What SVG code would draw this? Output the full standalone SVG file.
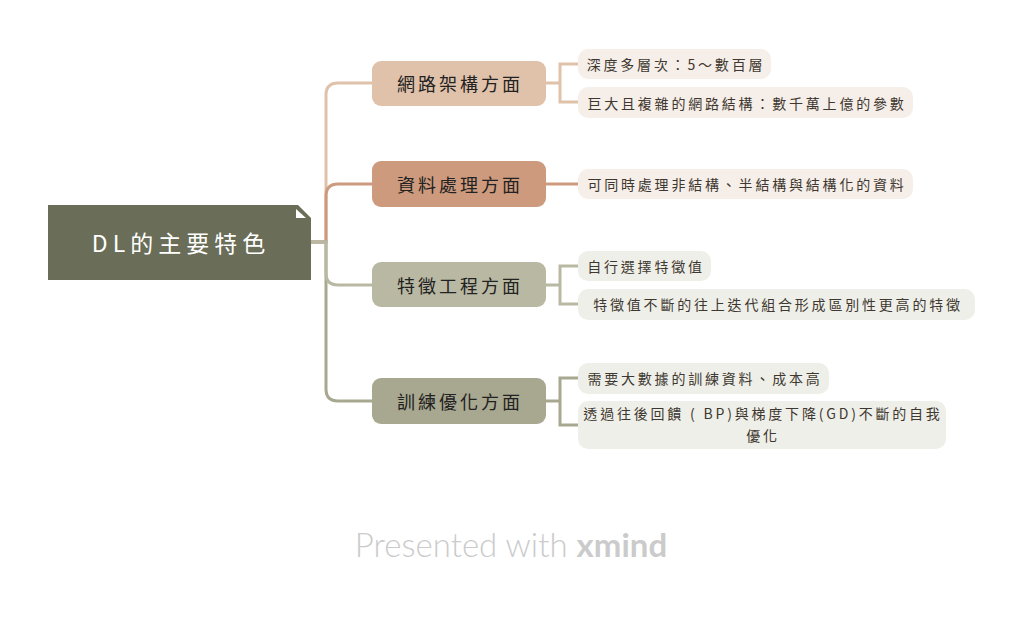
<svg xmlns="http://www.w3.org/2000/svg" width="1024" height="619" viewBox="0 0 1024 619">
<style>
text{font-family:"Noto Sans CJK TC","Noto Sans CJK SC",sans-serif;dominant-baseline:central;text-anchor:middle}
.root{font-size:23px;fill:#ffffff;letter-spacing:5px}
.br{font-size:18px;fill:#222222;letter-spacing:3px}
.sub{font-size:14px;fill:#3e3830;letter-spacing:2.8px}
.line{fill:none;stroke-width:3}
.c1{stroke:#e0c1aa}.c2{stroke:#cd9a7d}.c3{stroke:#b9b9a3}.c4{stroke:#a8a78f}
.f1{fill:#e0c1aa}.f2{fill:#cd9a7d}.f3{fill:#b9b9a3}.f4{fill:#a8a78f}
.s12{fill:#f6eee8}.s34{fill:#efefe9}
</style>
<rect width="1024" height="619" fill="#ffffff"/>
<g id="connectors">
<path class="line c1" d="M311,242 H326 V95 Q326,83 338,83 H372"/>
<path class="line c2" d="M311,242 H326 V196 Q326,184 338,184 H372"/>
<path class="line c4" d="M311,242 H326 V389 Q326,401 338,401 H372"/>
<path class="line c3" d="M311,242 H326 V273 Q326,285 338,285 H372"/>
<path class="line c1" d="M546,83 H560 M578,64 H560 V102 H578"/>
<path class="line c2" d="M546,184 H578"/>
<path class="line c3" d="M546,285 H560 M578,266 H560 V304 H578"/>
<path class="line c4" d="M546,401 H560 M578,378 H560 V425 H578"/>
</g>
<g id="root">
<polygon points="48,205 298,205 311,218 311,280 48,280" fill="#6a6d58"/>
<polygon points="296,209 296,218 306,218" fill="#ffffff"/>
<text class="root" x="181" y="242">DL的主要特色</text>
</g>
<g id="b1">
<rect x="372" y="61" width="174" height="45" rx="9" class="f1"/>
<text class="br" x="460" y="83">網路架構方面</text>
</g>
<g id="b2">
<rect x="372" y="161" width="174" height="46" rx="9" class="f2"/>
<text class="br" x="460" y="184">資料處理方面</text>
</g>
<g id="b3">
<rect x="372" y="262" width="174" height="45" rx="9" class="f3"/>
<text class="br" x="460" y="285">特徵工程方面</text>
</g>
<g id="b4">
<rect x="372" y="378" width="174" height="46" rx="9" class="f4"/>
<text class="br" x="460" y="401">訓練優化方面</text>
</g>
<g id="s1a">
<rect x="578" y="49" width="193" height="30" rx="10" class="s12"/>
<text class="sub" x="676" y="64">深度多層次：5～數百層</text>
</g>
<g id="s1b">
<rect x="578" y="87" width="335" height="31" rx="10" class="s12"/>
<text class="sub" x="747" y="102.5">巨大且複雜的網路結構：數千萬上億的參數</text>
</g>
<g id="s2a">
<rect x="578" y="169" width="335" height="30" rx="10" class="s12"/>
<text class="sub" x="747" y="184">可同時處理非結構、半結構與結構化的資料</text>
</g>
<g id="s3a">
<rect x="578" y="251" width="133" height="30" rx="10" class="s34"/>
<text class="sub" x="646" y="266">自行選擇特徵值</text>
</g>
<g id="s3b">
<rect x="578" y="289" width="397" height="31" rx="10" class="s34"/>
<text class="sub" x="778" y="304">特徵值不斷的往上迭代組合形成區別性更高的特徵</text>
</g>
<g id="s4a">
<rect x="578" y="363" width="251" height="31" rx="10" class="s34"/>
<text class="sub" x="705" y="378">需要大數據的訓練資料、成本高</text>
</g>
<g id="s4b">
<rect x="578" y="401" width="368" height="48" rx="10" class="s34"/>
<text class="sub" x="763" y="413">透過往後回饋 ( BP)與梯度下降(GD)不斷的自我</text>
<text class="sub" x="763" y="435">優化</text>
</g>
<g id="footer">
<text x="511" y="557" style="font-family:Lato,'Open Sans',sans-serif;font-size:33px;font-weight:300;fill:#cbcbcb;dominant-baseline:alphabetic">Presented with <tspan font-weight="bold">xmind</tspan></text>
</g>
</svg>
